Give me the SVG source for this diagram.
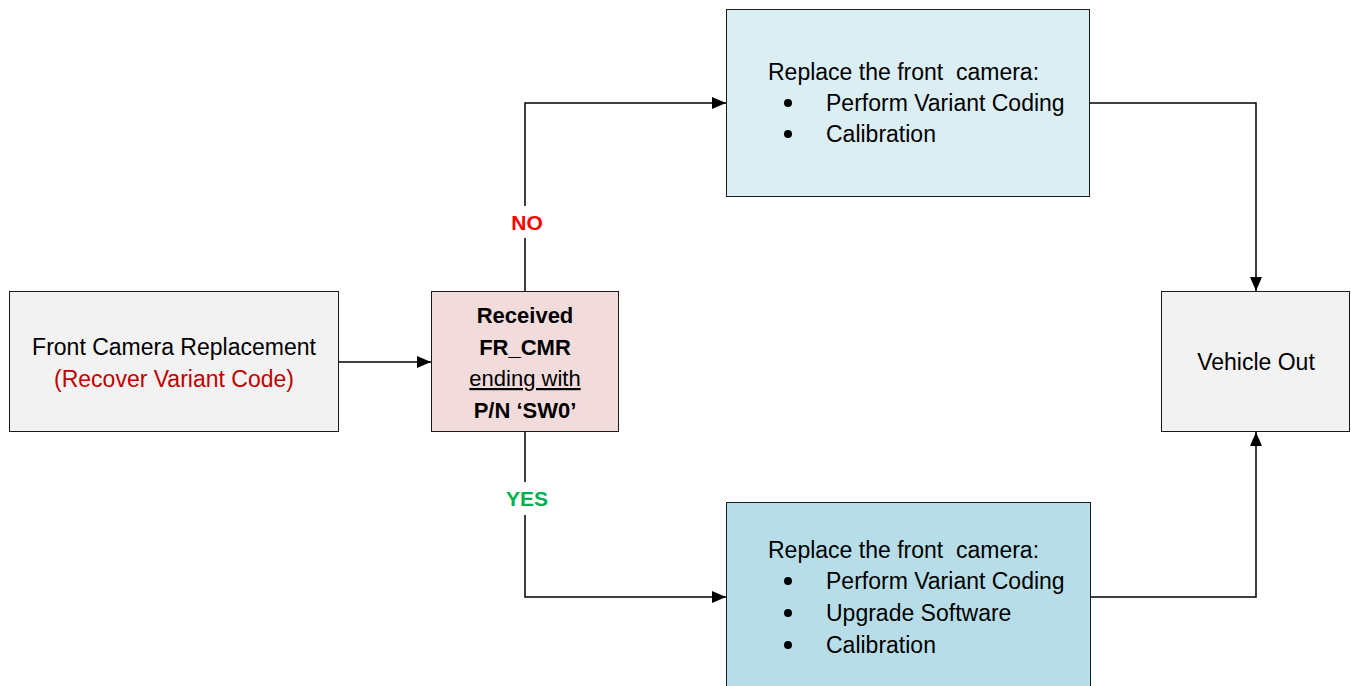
<svg xmlns="http://www.w3.org/2000/svg" width="1351" height="686" viewBox="0 0 1351 686">
<style>
.box{stroke:#1a1a1a;stroke-width:1}
.t{font-family:"Liberation Sans",Arial,sans-serif;font-size:23px;fill:#000}
.b{font-weight:bold;font-size:22px}
.c{text-anchor:middle}
.line{fill:none;stroke:#000;stroke-width:1.5}
</style>
<defs>
<marker id="ah" viewBox="0 0 14 12" refX="14" refY="6" markerWidth="14" markerHeight="12" markerUnits="userSpaceOnUse" orient="auto">
<path d="M0,0 L14,6 L0,12 z" fill="#000"/>
</marker>
</defs>
<rect width="1351" height="686" fill="#fff"/>
<g id="connectors">
<path class="line" d="M339,362 H431" marker-end="url(#ah)"/>
<path class="line" d="M525,291 V238 M525,206 V103 H726" marker-end="url(#ah)"/>
<path class="line" d="M525,432 V482 M525,515 V597 H726" marker-end="url(#ah)"/>
<path class="line" d="M1090,103 H1256 V291" marker-end="url(#ah)"/>
<path class="line" d="M1091,597 H1256 V432" marker-end="url(#ah)"/>
<text class="t b c" x="527" y="230" style="fill:#ff0000;font-size:21px">NO</text>
<text class="t b c" x="527" y="506" style="fill:#00b050;font-size:21px">YES</text>
</g>
<g id="start">
<rect class="box" x="9.5" y="291.5" width="329" height="140" fill="#f2f2f2"/>
<text class="t c" x="174" y="355">Front Camera Replacement</text>
<text class="t c" x="174" y="387" style="fill:#c00000">(Recover Variant Code)</text>
</g>
<g id="decision">
<rect class="box" x="431.5" y="291.5" width="187" height="140" fill="#f2dcdb"/>
<text class="t b c" x="525" y="323">Received</text>
<text class="t b c" x="525" y="355">FR_CMR</text>
<text class="t c" x="525" y="386" style="font-size:22px" text-decoration="underline">ending with</text>
<text class="t b c" x="525" y="418">P/N ‘SW0’</text>
</g>
<g id="no-branch">
<rect class="box" x="726.5" y="9.5" width="363" height="187" fill="#dbeef4"/>
<text class="t" x="768" y="80">Replace the front&#160; camera:</text>
<circle cx="788" cy="103" r="4" fill="#000"/>
<text class="t" x="826" y="111">Perform Variant Coding</text>
<circle cx="788" cy="134" r="4" fill="#000"/>
<text class="t" x="826" y="142">Calibration</text>
</g>
<g id="yes-branch">
<rect class="box" x="726.5" y="502.5" width="364" height="190" fill="#b7dee8"/>
<text class="t" x="768" y="558">Replace the front&#160; camera:</text>
<circle cx="788" cy="581" r="4" fill="#000"/>
<text class="t" x="826" y="589">Perform Variant Coding</text>
<circle cx="788" cy="613" r="4" fill="#000"/>
<text class="t" x="826" y="621">Upgrade Software</text>
<circle cx="788" cy="645" r="4" fill="#000"/>
<text class="t" x="826" y="653">Calibration</text>
</g>
<g id="vehicle-out">
<rect class="box" x="1161.5" y="291.5" width="188" height="140" fill="#f2f2f2"/>
<text class="t c" x="1256" y="370">Vehicle Out</text>
</g>
</svg>
